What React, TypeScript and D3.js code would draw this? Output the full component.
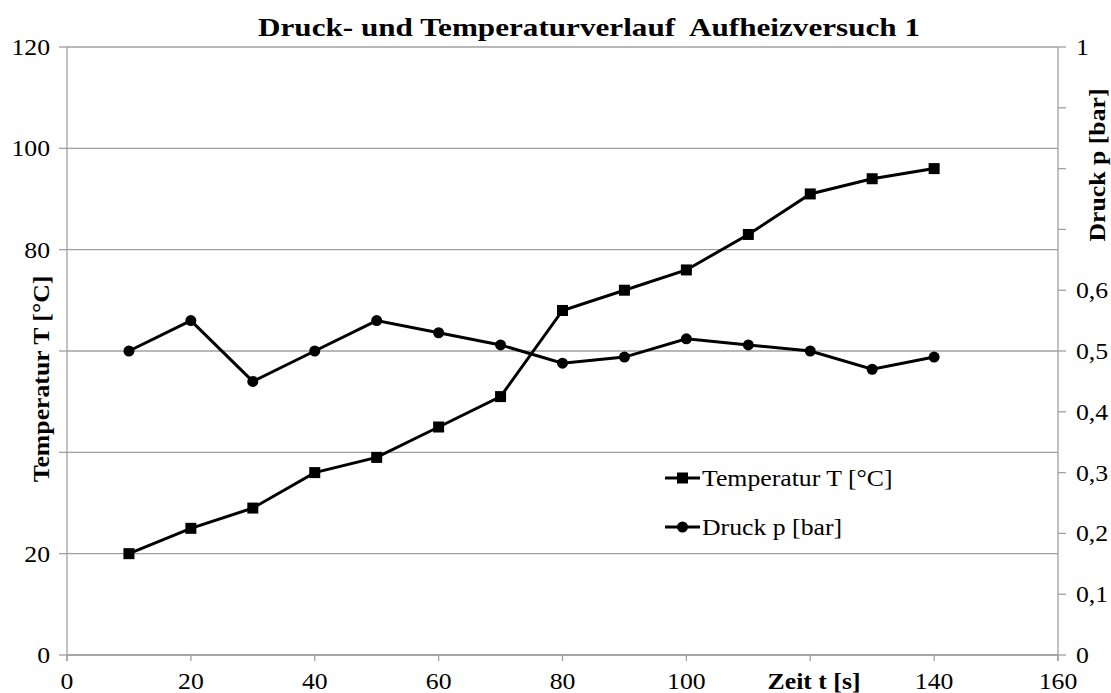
import React from "react";
import * as d3 from "d3";

const times = [10, 20, 30, 40, 50, 60, 70, 80, 90, 100, 110, 120, 130, 140];
const temperature = [20, 25, 29, 36, 39, 45, 51, 68, 72, 76, 83, 91, 94, 96];
const pressure = [0.5, 0.55, 0.45, 0.5, 0.55, 0.53, 0.51, 0.48, 0.49, 0.52, 0.51, 0.5, 0.47, 0.49];
const xTicks = [0, 20, 40, 60, 80, 100, 120, 140, 160];
const leftTicks = [0, 20, 40, 60, 80, 100, 120];
const rightTicks = [0, 0.1, 0.2, 0.3, 0.4, 0.5, 0.6, 0.7, 0.8, 0.9, 1];

const W = 1111, H = 693;
const L = 67, R = 1058, T = 47, B = 655;
const FONT = "Liberation Serif";
const GRID = "#a0a0a0";
const FS = 23;
const SX = 1.12;

type TProps = {
  x: number; y: number; rot?: number; anchor?: "start" | "middle" | "end";
  bold?: boolean; size?: number; dy?: string; children: React.ReactNode;
};
function Txt({ x, y, rot = 0, anchor = "start", bold = false, size = FS, dy, children }: TProps) {
  return (
    <text
      transform={`translate(${x},${y}) rotate(${rot}) scale(${SX},1)`}
      textAnchor={anchor}
      fontSize={size}
      fontWeight={bold ? "bold" : "normal"}
      dy={dy}
      style={{ fontFamily: FONT, whiteSpace: "pre" }}
    >
      {children}
    </text>
  );
}

export default function App() {
  const x = d3.scaleLinear().domain([0, 160]).range([L, R]);
  const yL = d3.scaleLinear().domain([0, 120]).range([B, T]);
  const yR = d3.scaleLinear().domain([0, 1]).range([B, T]);
  const lineT = d3.line<number>().x((_, i) => x(times[i])).y((d) => yL(d));
  const lineP = d3.line<number>().x((_, i) => x(times[i])).y((d) => yR(d));
  const fmt = (v: number) => String(v).replace(".", ",");
  const hiddenLeft = new Set([40, 60]);
  const hiddenRight = new Set([0.7, 0.8, 0.9]);
  const hiddenX = new Set([120]);

  return (
    <svg width={W} height={H} style={{ position: "absolute", left: 0, top: 0, background: "#fff", fontFamily: FONT }}>
      <rect x={0} y={0} width={W} height={H} fill="#fff" />
      {leftTicks.map((t) => (
        <line key={"g" + t} x1={L} x2={R} y1={yL(t)} y2={yL(t)} stroke={GRID} strokeWidth={1.3} />
      ))}
      <line x1={L} x2={L} y1={T} y2={B + 6} stroke={GRID} strokeWidth={1.3} />
      <line x1={R} x2={R} y1={T} y2={B + 6} stroke={GRID} strokeWidth={1.3} />
      <line x1={L} x2={R} y1={B} y2={B} stroke={GRID} strokeWidth={1.3} />
      {leftTicks.map((t) => (
        <line key={"lt" + t} x1={L - 8} x2={L} y1={yL(t)} y2={yL(t)} stroke={GRID} strokeWidth={1.3} />
      ))}
      {rightTicks.map((t) => (
        <line key={"rt" + t} x1={R} x2={R + 8} y1={yR(t)} y2={yR(t)} stroke={GRID} strokeWidth={1.3} />
      ))}
      {xTicks.map((t) => (
        <line key={"xt" + t} x1={x(t)} x2={x(t)} y1={B} y2={B + 6} stroke={GRID} strokeWidth={1.3} />
      ))}
      {leftTicks.filter((t) => !hiddenLeft.has(t)).map((t) => (
        <Txt key={"ll" + t} x={50} y={yL(t)} dy="0.35em" anchor="end">{t}</Txt>
      ))}
      {rightTicks.filter((t) => !hiddenRight.has(t)).map((t) => (
        <Txt key={"rl" + t} x={1076} y={yR(t)} dy="0.35em">{fmt(t)}</Txt>
      ))}
      {xTicks.filter((t) => !hiddenX.has(t)).map((t) => (
        <Txt key={"xl" + t} x={x(t)} y={689} anchor="middle">{t}</Txt>
      ))}
      <Txt x={814} y={689} anchor="middle" bold>Zeit t [s]</Txt>
      <Txt x={49} y={379} rot={-90} anchor="middle" bold>Temperatur T [°C]</Txt>
      <Txt x={1105} y={165} rot={-90} anchor="middle" bold>Druck p [bar]</Txt>
      <text x={258} y={36} textLength={662} lengthAdjust="spacingAndGlyphs" fontSize={26} fontWeight="bold" style={{ fontFamily: FONT, whiteSpace: "pre" }}>Druck- und Temperaturverlauf  Aufheizversuch 1</text>
      <path d={lineT(temperature) || ""} fill="none" stroke="#000" strokeWidth={3} />
      <path d={lineP(pressure) || ""} fill="none" stroke="#000" strokeWidth={3} />
      {temperature.map((v, i) => (
        <rect key={"s" + i} x={x(times[i]) - 5.5} y={yL(v) - 5.5} width={11} height={11} fill="#000" />
      ))}
      {pressure.map((v, i) => (
        <circle key={"c" + i} cx={x(times[i])} cy={yR(v)} r={5.5} fill="#000" />
      ))}
      <rect x={633} y={453} width={250} height={97} fill="#fff" />
      <line x1={665} x2={700} y1={478} y2={478} stroke="#000" strokeWidth={3} />
      <rect x={677} y={472.5} width={11} height={11} fill="#000" />
      <Txt x={702} y={478} dy="0.35em">Temperatur T [°C]</Txt>
      <line x1={665} x2={700} y1={527} y2={527} stroke="#000" strokeWidth={3} />
      <circle cx={682.5} cy={527} r={5.5} fill="#000" />
      <Txt x={702} y={527} dy="0.35em">Druck p [bar]</Txt>
    </svg>
  );
}
